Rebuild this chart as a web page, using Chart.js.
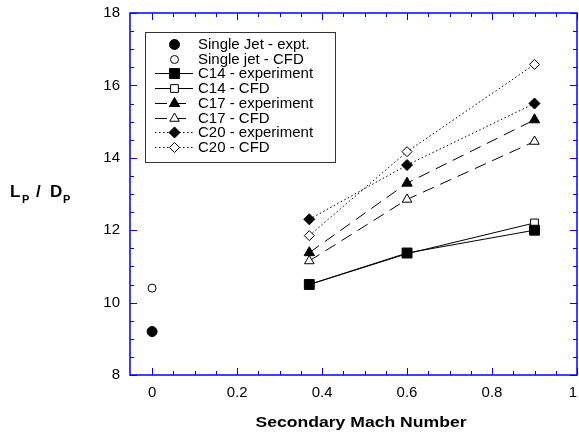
<!DOCTYPE html>
<html>
<head>
<meta charset="utf-8">
<title>Potential core length vs secondary Mach number</title>
<script src="https://cdn.jsdelivr.net/npm/chart.js@4.4.1/dist/chart.umd.min.js"></script>
<style>
    html, body { margin: 0; padding: 0; background: #fff; }
    canvas { display: block; }
</style>
</head>
<body>
<canvas id="lpdp" width="579" height="444"></canvas>
<script>
(function() {
    'use strict';

    // secondary Mach numbers
    var singleMach = [0];
    var nozzleMach = [0.37, 0.6, 0.9];

    // L_P / D_P for each case
    var singleExpt = [9.2];
    var singleCfd = [10.4];
    var c14Expt = [10.5, 11.37, 12.0];
    var c14Cfd = [10.5, 11.35, 12.2];
    var c17Expt = [11.38, 13.3, 15.05];
    var c17Cfd = [11.15, 12.85, 14.45];
    var c20Expt = [12.3, 13.8, 15.5];
    var c20Cfd = [11.85, 14.17, 16.58];

    // axis ticks
    var xTicks = [0, 0.2, 0.4, 0.6, 0.8, 1];
    var yTicks = [8, 10, 12, 14, 16, 18];
    var xMinorStep = 0.05;
    var yMinorStep = 0.5;

    var FONT = '"Liberation Sans", Arial, Helvetica, sans-serif';
    var AXIS_BLUE = '#0000ff';
    var DASHED = [12, 7];
    var DOTTED = [1.5, 2.5];

    function points(xs, ys) {
        return xs.map(function(x, i) { return { x: x, y: ys[i] }; });
    }

    // every series is black; only marker style, fill and dash differ
    function series(label, xs, ys, style, radius, filled, dash, order) {
        return {
            label: label,
            data: points(xs, ys),
            showLine: dash !== null,
            borderColor: '#000',
            borderWidth: 1,
            borderDash: dash || [],
            tension: 0,
            pointStyle: style,
            pointRadius: radius,
            pointHoverRadius: radius,
            pointBorderWidth: 1,
            pointBorderColor: '#000',
            pointBackgroundColor: filled ? '#000' : '#fff',
            order: order
        };
    }

    var datasets = [
        series('Single Jet - expt.', singleMach, singleExpt, 'circle', 5, true, null, 0),
        series('Single jet - CFD', singleMach, singleCfd, 'circle', 4, false, null, 1),
        series('C14 - experiment', nozzleMach, c14Expt, 'rect', 7, true, [], 0),
        series('C14 - CFD', nozzleMach, c14Cfd, 'rect', 5.5, false, [], 1),
        series('C17 - experiment', nozzleMach, c17Expt, 'triangle', 6, true, DASHED, 0),
        series('C17 - CFD', nozzleMach, c17Cfd, 'triangle', 5.5, false, DASHED, 1),
        series('C20 - experiment', nozzleMach, c20Expt, 'rectRot', 5.5, true, DOTTED, 0),
        series('C20 - CFD', nozzleMach, c20Cfd, 'rectRot', 5, false, DOTTED, 1)
    ];

    function drawMarker(ctx, ds, x, y) {
        ctx.save();
        ctx.setLineDash([]);
        ctx.fillStyle = ds.pointBackgroundColor;
        ctx.strokeStyle = ds.pointBorderColor;
        ctx.lineWidth = ds.pointBorderWidth;
        if (Chart.helpers && Chart.helpers.drawPoint) {
            Chart.helpers.drawPoint(ctx, {
                pointStyle: ds.pointStyle,
                radius: ds.pointRadius,
                rotation: 0,
                borderWidth: ds.pointBorderWidth
            }, x, y);
        } else {
            ctx.beginPath();
            ctx.arc(x, y, ds.pointRadius, 0, Math.PI * 2);
            ctx.fill();
            ctx.stroke();
        }
        ctx.restore();
    }

    function tickText(v) {
        return String(Math.round(v * 10) / 10);
    }

    // blue frame with inward major/minor ticks on all four sides,
    // plus the x tick labels (the last one is kept inside the canvas)
    var framePlugin = {
        id: 'frame',
        afterDraw: function(chart) {
            var ctx = chart.ctx;
            var a = chart.chartArea;
            var xs = chart.scales.x, ys = chart.scales.y;
            var v, px, major, len;

            ctx.save();
            ctx.strokeStyle = AXIS_BLUE;
            ctx.lineWidth = 1.5;
            ctx.strokeRect(a.left, a.top, a.right - a.left, a.bottom - a.top);

            ctx.lineWidth = 1;
            ctx.beginPath();
            for (v = 0; v <= 1.0001; v += xMinorStep) {
                px = Math.round(xs.getPixelForValue(v)) + 0.5;
                major = xTicks.some(function(t) { return Math.abs(t - v) < 1e-6; });
                len = major ? 7 : 4;
                ctx.moveTo(px, a.bottom); ctx.lineTo(px, a.bottom - len);
                ctx.moveTo(px, a.top); ctx.lineTo(px, a.top + len);
            }
            for (v = yTicks[0]; v <= yTicks[yTicks.length - 1] + 1e-6; v += yMinorStep) {
                px = Math.round(ys.getPixelForValue(v)) + 0.5;
                major = yTicks.indexOf(v) !== -1;
                len = major ? 7 : 4;
                ctx.moveTo(a.left, px); ctx.lineTo(a.left + len, px);
                ctx.moveTo(a.right, px); ctx.lineTo(a.right - len, px);
            }
            ctx.stroke();

            ctx.fillStyle = '#000';
            ctx.font = '15px ' + FONT;
            ctx.textAlign = 'center';
            ctx.textBaseline = 'middle';
            xTicks.forEach(function(t) {
                var s = tickText(t);
                var half = ctx.measureText(s).width / 2;
                var x = Math.min(xs.getPixelForValue(t), chart.width - half - 2);
                ctx.fillText(s, x, a.bottom + 18);
            });
            ctx.restore();
        }
    };

    // boxed legend inside the plot, upper left
    var legendPlugin = {
        id: 'boxLegend',
        afterDraw: function(chart) {
            var ctx = chart.ctx;
            var box = { left: 145, top: 32, width: 190, height: 130 };
            var rowY = 44, rowStep = 14.7;

            ctx.save();
            ctx.fillStyle = '#fff';
            ctx.fillRect(box.left, box.top, box.width, box.height);
            ctx.strokeStyle = '#333';
            ctx.lineWidth = 1;
            ctx.strokeRect(box.left + 0.5, box.top + 0.5, box.width, box.height);

            ctx.font = '15px ' + FONT;
            ctx.textBaseline = 'middle';
            ctx.textAlign = 'left';
            datasets.forEach(function(ds, i) {
                var y = Math.round(rowY + i * rowStep) + 0.5;
                if (ds.showLine) {
                    ctx.save();
                    ctx.strokeStyle = '#000';
                    ctx.lineWidth = 1;
                    ctx.setLineDash(ds.borderDash);
                    ctx.beginPath();
                    ctx.moveTo(155, y);
                    ctx.lineTo(193, y);
                    ctx.stroke();
                    ctx.restore();
                }
                drawMarker(ctx, ds, 174.5, y);
                ctx.fillStyle = '#000';
                ctx.fillText(ds.label, 198, y);
            });
            ctx.restore();
        }
    };

    // axis titles, the y one with subscripts
    var titlePlugin = {
        id: 'axisTitles',
        afterDraw: function(chart) {
            var ctx = chart.ctx;
            var label = 'Secondary Mach Number';
            ctx.save();
            ctx.fillStyle = '#000';
            ctx.textBaseline = 'alphabetic';

            ctx.font = 'bold 14px ' + FONT;
            var w = ctx.measureText(label).width;
            ctx.translate(361, 427);
            ctx.scale(211 / w, 1);
            ctx.textAlign = 'center';
            ctx.fillText(label, 0, 0);
            ctx.setTransform(1, 0, 0, 1, 0, 0);

            ctx.textAlign = 'left';
            ctx.font = 'bold 17px ' + FONT;
            ctx.fillText('L', 10, 197);
            ctx.fillText('/', 36, 197);
            ctx.fillText('D', 50, 197);
            ctx.font = 'bold 11px ' + FONT;
            ctx.fillText('P', 22, 203);
            ctx.fillText('P', 63, 203);
            ctx.restore();
        }
    };

    // keep tick labels from pushing the plot area inward
    function noLabelPadding(scale) {
        scale.paddingLeft = 0;
        scale.paddingRight = 0;
        scale.paddingTop = 0;
        scale.paddingBottom = 0;
    }

    new Chart(document.getElementById('lpdp').getContext('2d'), {
        type: 'scatter',
        data: { datasets: datasets },
        options: {
            responsive: false,
            animation: false,
            events: [],
            layout: {
                autoPadding: false,
                padding: { top: 13, right: 2, left: 0, bottom: 0 }
            },
            plugins: {
                legend: { display: false },
                tooltip: { enabled: false }
            },
            scales: {
                x: {
                    type: 'linear',
                    min: -0.052,
                    max: 1,
                    grid: { display: false, drawTicks: false },
                    border: { display: false },
                    afterBuildTicks: function(scale) {
                        scale.ticks = xTicks.map(function(v) { return { value: v }; });
                    },
                    afterFit: function(scale) {
                        scale.height = 69;
                        noLabelPadding(scale);
                    },
                    ticks: { display: false }
                },
                y: {
                    type: 'linear',
                    min: yTicks[0],
                    max: yTicks[yTicks.length - 1],
                    grid: { display: false, drawTicks: false },
                    border: { display: false },
                    afterBuildTicks: function(scale) {
                        scale.ticks = yTicks.map(function(v) { return { value: v }; });
                    },
                    afterFit: function(scale) {
                        scale.width = 130;
                        noLabelPadding(scale);
                    },
                    ticks: {
                        padding: 10,
                        color: '#000',
                        font: { family: FONT, size: 15 }
                    }
                }
            }
        },
        plugins: [framePlugin, legendPlugin, titlePlugin]
    });
}());
</script>
</body>
</html>
